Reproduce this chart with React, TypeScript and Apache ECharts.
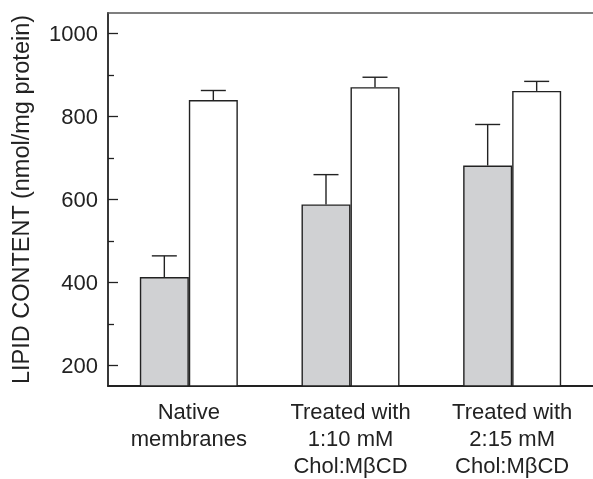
import React, { useEffect, useRef } from "react";
import * as echarts from "echarts";

const categories = ["Native\nmembranes", "Treated with\n1:10 mM\nChol:MβCD", "Treated with\n2:15 mM\nChol:MβCD"];
const grayMeans = [413, 588, 682];
const graySD = [51, 72, 99];
const whiteMeans = [840, 871, 862];
const whiteSD = [23, 24, 23];
const majorTicks = [200, 400, 600, 800, 1000];
const minorTicks = [300, 500, 700, 900];

const BAR_W = 49;

export default function App() {
  const ref = useRef<HTMLDivElement>(null);
  useEffect(() => {
    document.body.style.margin = "0";
    const chart = echarts.init(ref.current!, null, { renderer: "svg" });
    const font = "'Liberation Sans', Arial, sans-serif";
    const errData = (means: number[], sd: number[]) => means.map((m, i) => [i, m, m + sd[i]]);
    const errSeries = (means: number[], sd: number[], offset: number) => ({
      type: "custom",
      xAxisIndex: 0,
      yAxisIndex: 0,
      z: 5,
      data: errData(means, sd),
      renderItem: (params: any, api: any) => {
        const base = api.coord([api.value(0), api.value(1)]);
        const top = api.coord([api.value(0), api.value(2)]);
        const x = base[0] + offset;
        const style = { stroke: "#222", lineWidth: 1.4 };
        return {
          type: "group",
          children: [
            { type: "line", shape: { x1: x, y1: base[1], x2: x, y2: top[1] }, style },
            { type: "line", shape: { x1: x - 12.5, y1: top[1], x2: x + 12.5, y2: top[1] }, style },
          ],
        };
      },
    });
    chart.setOption({
      animation: false,
      grid: { left: 108, top: 13, width: 493, bottom: 89 },
      xAxis: [
        {
          type: "category",
          data: categories,
          axisLine: { lineStyle: { color: "#222", width: 1.8 } },
          axisTick: { show: false },
          axisLabel: {
            color: "#222",
            fontSize: 22,
            fontFamily: font,
            lineHeight: 27,
            margin: 12,
            interval: 0,
          },
        },
        {
          type: "category",
          position: "top",
          data: categories,
          axisLine: { lineStyle: { color: "#555", width: 1.5 } },
          axisTick: { show: false },
          axisLabel: { show: false },
        },
      ],
      yAxis: [
        {
          type: "value",
          min: 150,
          max: 1050,
          name: "LIPID CONTENT (nmol/mg protein)",
          nameLocation: "middle",
          nameGap: 75,
          nameTextStyle: { color: "#222", fontSize: 23.5, fontFamily: font },
          splitLine: { show: false },
          axisLine: { show: true, lineStyle: { color: "#222", width: 1.8 } },
          axisTick: { show: true, inside: true, length: 10, customValues: majorTicks, lineStyle: { color: "#222", width: 1.3 } },
          axisLabel: {
            color: "#222",
            fontSize: 22,
            fontFamily: font,
            margin: 10,
            customValues: majorTicks,
            formatter: (v: number) => String(v),
          },
        },
        {
          type: "value",
          min: 150,
          max: 1050,
          position: "left",
          splitLine: { show: false },
          axisLine: { show: false },
          axisTick: { show: true, inside: true, length: 6, customValues: minorTicks, lineStyle: { color: "#222", width: 1.3 } },
          axisLabel: { show: false },
        },
      ],
      series: [
        {
          type: "bar",
          data: grayMeans,
          barWidth: BAR_W,
          barGap: "0%",
          itemStyle: { color: "#d0d1d3", borderColor: "#222", borderWidth: 1.4 },
        },
        {
          type: "bar",
          data: whiteMeans,
          barWidth: BAR_W,
          barGap: "0%",
          itemStyle: { color: "#ffffff", borderColor: "#222", borderWidth: 1.4 },
        },
        errSeries(grayMeans, graySD, -BAR_W / 2),
        errSeries(whiteMeans, whiteSD, BAR_W / 2),
      ],
    });
    return () => chart.dispose();
  }, []);
  return <div ref={ref} style={{ position: "fixed", left: 0, top: 0, width: 593, height: 479 }} />;
}
